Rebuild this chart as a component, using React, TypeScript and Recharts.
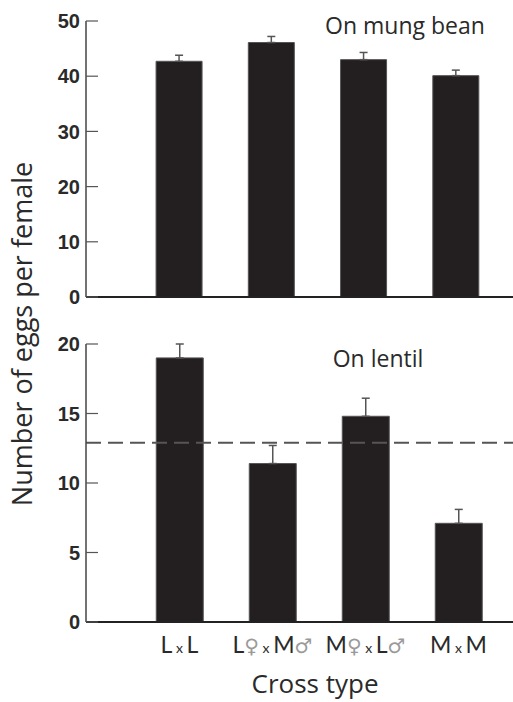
import React from "react";
import { BarChart, Bar, XAxis, YAxis, ErrorBar, ReferenceLine } from "recharts";

// cross types: L = lentil line, M = mung bean line
const categories = ["LxL", "L♀xM♂", "M♀xL♂", "MxM"];

const mungMeans = [42.7, 46.1, 43.0, 40.1];
const mungErr = [1.1, 1.1, 1.3, 1.0];

const lentilMeans = [19.0, 11.4, 14.8, 7.1];
const lentilErr = [1.0, 1.3, 1.3, 1.0];
const lentilOverall = 12.9;

const mungTicks = [0, 10, 20, 30, 40, 50];
const lentilTicks = [0, 5, 10, 15, 20];

const mungData = categories.map((c, i) => ({ cross: c, mean: mungMeans[i], err: [0, mungErr[i]] }));
const lentilData = categories.map((c, i) => ({ cross: c, mean: lentilMeans[i], err: [0, lentilErr[i]] }));

const TEXT = "#2a2a2a";
const BAR = "#231f20";
const LABEL_FONT = "'Open Sans', Lato, sans-serif";

// y ticks: label on the left, short tick mark pointing into the plot
function YTick(props: any) {
  const { x, y, payload } = props;
  if (x == null || y == null || !payload) return null;
  return (
    <g>
      <line x1={x + 6} x2={x + 18} y1={y} y2={y} stroke="#555" strokeWidth={1.2} />
      <text
        x={x}
        y={y}
        dy="0.36em"
        textAnchor="end"
        fontFamily="'Liberation Sans', Arial, sans-serif"
        fontWeight="bold"
        fontSize={20}
        fill={TEXT}
      >
        {payload.value}
      </text>
    </g>
  );
}

// cross labels: small "x", grey sex symbols
function CrossTick(props: any) {
  const { x, y, payload } = props;
  if (x == null || y == null || !payload) return null;
  const chars = String(payload.value).split("");
  return (
    <text x={x} y={y + 31} textAnchor="middle" fontFamily="Lato, sans-serif" fontSize={23} fill={TEXT}>
      {chars.map((ch, i) => {
        if (ch === "x")
          return (
            <tspan key={i} fontSize={14}>
              {" x "}
            </tspan>
          );
        if (ch === "♀" || ch === "♂")
          return (
            <tspan key={i} fill="#9a9a9a" fontFamily="'DejaVu Sans', sans-serif" fontSize={20}>
              {ch}
            </tspan>
          );
        return <tspan key={i}>{ch}</tspan>;
      })}
    </text>
  );
}

export default function App() {
  return (
    <div
      style={{
        position: "absolute",
        left: 0,
        top: 0,
        width: 513,
        height: 702,
        background: "#fff",
        overflow: "hidden",
      }}
    >
      {/* upper panel: mung bean */}
      <div style={{ position: "absolute", left: 0, top: 0 }}>
        <BarChart
          width={513}
          height={310}
          data={mungData}
          margin={{ top: 21, right: 0, bottom: 11, left: 0 }}
          barCategoryGap="25%"
        >
          <XAxis
            dataKey="cross"
            height={2}
            tick={false}
            tickLine={false}
            axisLine={{ stroke: "#222", strokeWidth: 2 }}
            padding={{ left: 47, right: 11 }}
          />
          <YAxis
            width={86}
            domain={[0, 50]}
            ticks={mungTicks}
            tickSize={0}
            tickMargin={6}
            tickLine={false}
            axisLine={{ stroke: "#444", strokeWidth: 1.5 }}
            tick={(p: any) => <YTick {...p} />}
          />
          <Bar dataKey="mean" fill={BAR} stroke="#555" strokeWidth={1} isAnimationActive={false}>
            <ErrorBar dataKey="err" width={4} stroke="#555" strokeWidth={1.5} direction="y" isAnimationActive={false} />
          </Bar>
        </BarChart>
      </div>

      {/* lower panel: lentil */}
      <div style={{ position: "absolute", left: 0, top: 310 }}>
        <BarChart
          width={513}
          height={392}
          data={lentilData}
          margin={{ top: 34, right: 0, bottom: 36, left: 0 }}
          barCategoryGap="25%"
        >
          <XAxis
            dataKey="cross"
            height={44}
            tickSize={0}
            tickMargin={0}
            tickLine={false}
            interval={0}
            axisLine={{ stroke: "#222", strokeWidth: 2 }}
            padding={{ left: 47, right: 8 }}
            tick={(p: any) => <CrossTick {...p} />}
          />
          <YAxis
            width={86}
            domain={[0, 20]}
            ticks={lentilTicks}
            tickSize={0}
            tickMargin={6}
            tickLine={false}
            axisLine={{ stroke: "#444", strokeWidth: 1.5 }}
            tick={(p: any) => <YTick {...p} />}
          />
          <Bar dataKey="mean" fill={BAR} stroke="#555" strokeWidth={1} isAnimationActive={false}>
            <ErrorBar dataKey="err" width={4} stroke="#555" strokeWidth={1.5} direction="y" isAnimationActive={false} />
          </Bar>
          <ReferenceLine y={lentilOverall} stroke="#555" strokeWidth={2} strokeDasharray="15 7" />
        </BarChart>
      </div>

      {/* shared titles */}
      <svg
        width={513}
        height={702}
        style={{ position: "absolute", left: 0, top: 0, pointerEvents: "none" }}
      >
        <text x={405} y={34} textAnchor="middle" fontFamily={LABEL_FONT} fontSize={23} fill={TEXT}>
          On mung bean
        </text>
        <text x={378} y={367} textAnchor="middle" fontFamily={LABEL_FONT} fontSize={23} fill={TEXT}>
          On lentil
        </text>
        <text
          transform="translate(32, 334) rotate(-90)"
          textAnchor="middle"
          fontFamily={LABEL_FONT}
          fontSize={27}
          fill={TEXT}
        >
          Number of eggs per female
        </text>
        <text x={315} y={693} textAnchor="middle" fontFamily={LABEL_FONT} fontSize={26} fill={TEXT}>
          Cross type
        </text>
      </svg>
    </div>
  );
}
